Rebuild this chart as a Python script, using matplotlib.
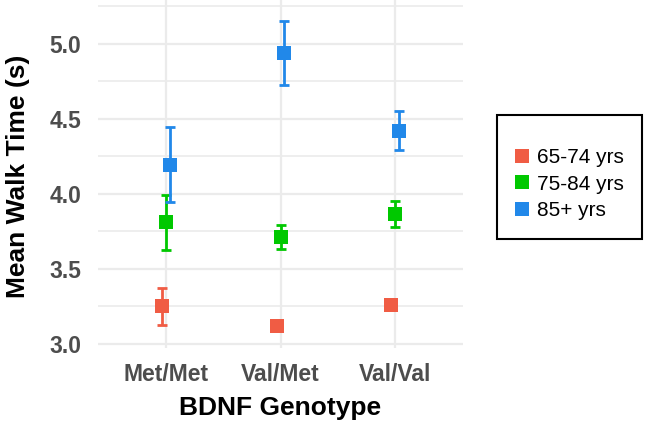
import matplotlib
matplotlib.use("Agg")
import matplotlib.pyplot as plt
from matplotlib.patches import Rectangle
from matplotlib.ticker import MultipleLocator, FormatStrFormatter

plt.rcParams["font.family"] = ["Liberation Sans", "DejaVu Sans"]

genotypes = ["Met/Met", "Val/Met", "Val/Val"]
groups = ["65-74 yrs", "75-84 yrs", "85+ yrs"]
mean_65_74 = [3.25, 3.12, 3.26]
err_65_74 = [0.125, 0.035, 0.035]
mean_75_84 = [3.81, 3.715, 3.865]
err_75_84 = [0.185, 0.08, 0.085]
mean_85 = [4.195, 4.94, 4.42]
err_85 = [0.25, 0.213, 0.13]

colors = ["#F05C44", "#00C800", "#2188E9"]
dodge = [-0.035, 0.0, 0.035]

W, H = 649, 429
fig = plt.figure(figsize=(W / 100, H / 100), dpi=100)
ax = fig.add_axes([98 / W, 81 / H, 365 / W, 348 / H])

series = [(mean_65_74, err_65_74), (mean_75_84, err_75_84), (mean_85, err_85)]
x = list(range(1, len(genotypes) + 1))
handles = []
for (m, e), c, d, lab in zip(series, colors, dodge, groups):
    xs = [xi + d for xi in x]
    ax.errorbar(xs, m, yerr=e, fmt="none", ecolor=c, elinewidth=2.0,
                capsize=3.8, capthick=2.0, zorder=3)
    h, = ax.plot(xs, m, "s", color=c, ms=10.6, mew=0, zorder=4, label=lab)
    handles.append(h)

ax.set_xlim(0.4, 3.6)
ax.set_ylim(2.973, 5.293)
ax.set_xticks(x)
ax.set_xticklabels(genotypes)
ax.yaxis.set_major_locator(MultipleLocator(0.5))
ax.yaxis.set_minor_locator(MultipleLocator(0.25))
ax.yaxis.set_major_formatter(FormatStrFormatter("%.1f"))
ax.grid(True, which="major", color="#EBEBEB", lw=1.6, zorder=0)
ax.grid(True, which="minor", axis="y", color="#EBEBEB", lw=1.2, zorder=0)
ax.set_axisbelow(True)
for s in ax.spines.values():
    s.set_visible(False)
ax.tick_params(which="both", length=0)
ax.tick_params(axis="y", pad=12)
ax.tick_params(axis="x", pad=11)
for lbl in ax.get_xticklabels() + ax.get_yticklabels():
    lbl.set_fontsize(16.5)
    lbl.set_fontweight("bold")
    lbl.set_color("#4D4D4D")

fig.text(18 / W, (H - 176) / H, "Mean Walk Time (s)", rotation=90,
         ha="center", va="center", fontsize=19, fontweight="bold")
fig.text(280.5 / W, (H - 415) / H, "BDNF Genotype", ha="center",
         va="baseline", fontsize=19, fontweight="bold")

# legend with a hand-drawn frame
fig.patches.append(Rectangle((497 / W, (H - 239) / H), 145 / W, 124 / H,
                             transform=fig.transFigure, fill=False,
                             edgecolor="black", lw=1.5))
fig.legend(handles=handles, loc="upper left",
           bbox_to_anchor=(514 / W, (H - 148) / H), frameon=False,
           fontsize=15, handlelength=0.75, handletextpad=0.35,
           labelspacing=0.36, borderpad=0, borderaxespad=0)

fig.savefig("out.png", dpi=100)
